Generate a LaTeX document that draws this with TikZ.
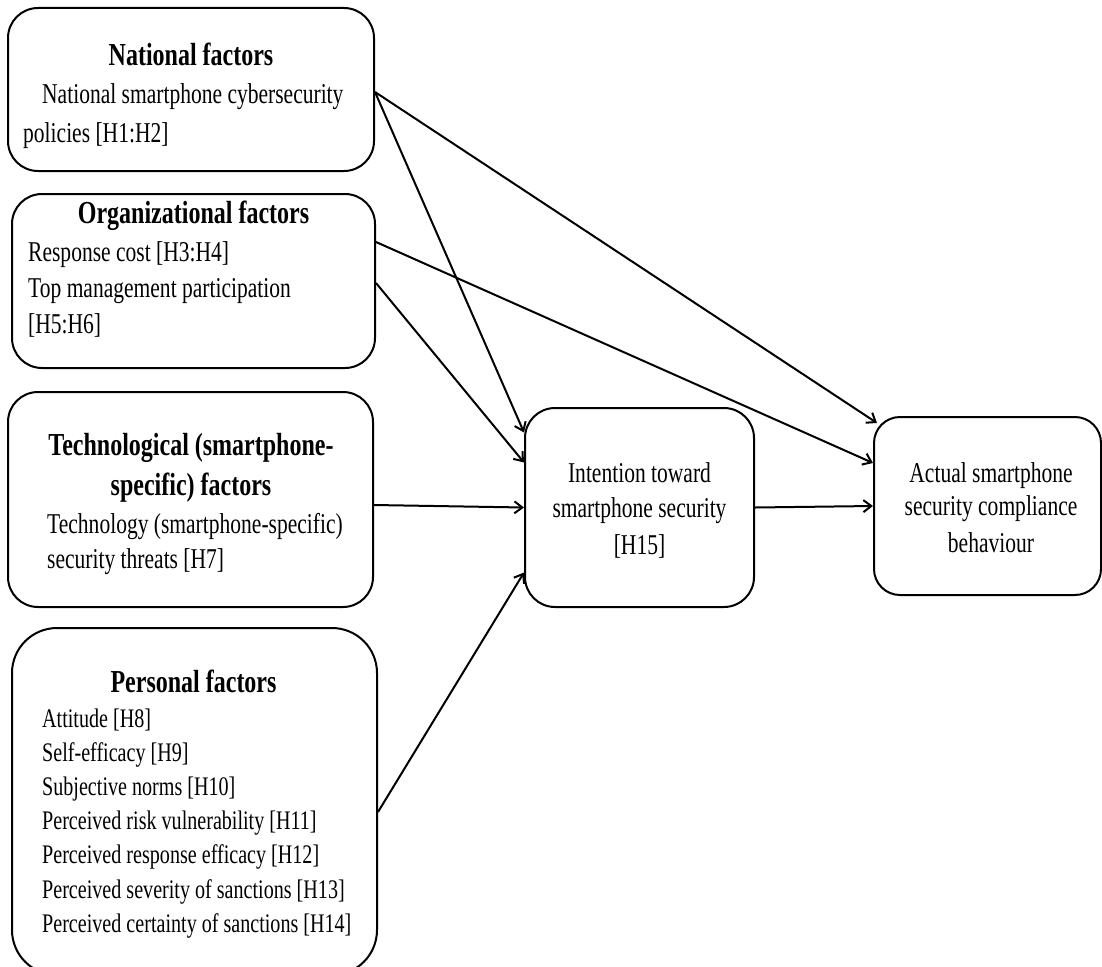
\documentclass[tikz,border=0pt]{standalone}
\usepackage{fontspec}
\setmainfont{Liberation Serif}[FakeStretch=0.75]
\usetikzlibrary{arrows.meta}
\begin{document}
\begin{tikzpicture}[x=1pt,y=-1pt,
  box/.style={draw, line width=2pt, rounded corners=30pt, inner sep=0pt},
  txt/.style={inner sep=0pt, font=\fontsize{28.7}{34}\selectfont},
  ptxt/.style={inner sep=0pt, font=\fontsize{26.8}{34}\selectfont},
  ttl/.style={inner sep=0pt, font=\fontsize{32}{38}\selectfont\bfseries},
  arr/.style={line width=2pt, -{Straight Barb[length=8pt,width=12pt]}}]
\useasboundingbox[fill=white] (0,0) rectangle (1102,966);
% boxes
\node[box, minimum width=366pt, minimum height=163pt] (nat) at (191,89.5) {};
\node[box, minimum width=363pt, minimum height=174pt] (org) at (193.5,281) {};
\node[box, minimum width=365pt, minimum height=215pt] (tech) at (190.5,499.5) {};
\node[box, rounded corners=45pt, minimum width=365pt, minimum height=347pt] (pers) at (194.5,801.5) {};
\node[box, minimum width=229pt, minimum height=199pt] (int) at (639.5,507.5) {};
\node[box, rounded corners=26pt, minimum width=227pt, minimum height=178pt] (act) at (987.5,506) {};
% national
\node[ttl, anchor=base] (natT) at (191,65) {National factors};
\node[txt, anchor=base west] (nat1) at (42,103) {National smartphone cybersecurity};
\node[txt, anchor=base west] (nat2) at (23,142) {policies [H1:H2]};
% organizational
\node[ttl, anchor=base] (orgT) at (193.5,223) {Organizational factors};
\node[txt, anchor=base west] (org1) at (28,261) {Response cost [H3:H4]};
\node[txt, anchor=base west] (org2) at (28,297) {Top management participation};
\node[txt, anchor=base west] (org3) at (28,333) {[H5:H6]};
% technological
\node[ttl, anchor=base] (techT1) at (191,455) {Technological (smartphone-};
\node[ttl, anchor=base] (techT2) at (191,495) {specific) factors};
\node[txt, anchor=base west] (tech1) at (47,533) {Technology (smartphone-specific)};
\node[txt, anchor=base west] (tech2) at (47,568) {security threats [H7]};
% personal
\node[ttl, anchor=base] (persT) at (193.5,692) {Personal factors};
\node[ptxt, anchor=base west] (pers1) at (42,727) {Attitude [H8]};
\node[ptxt, anchor=base west] (pers2) at (42,761) {Self-efficacy [H9]};
\node[ptxt, anchor=base west] (pers3) at (42,795) {Subjective norms [H10]};
\node[ptxt, anchor=base west] (pers4) at (42,829) {Perceived risk vulnerability [H11]};
\node[ptxt, anchor=base west] (pers5) at (42,863) {Perceived response efficacy [H12]};
\node[ptxt, anchor=base west] (pers6) at (42,898) {Perceived severity of sanctions [H13]};
\node[ptxt, anchor=base west] (pers7) at (42,932) {Perceived certainty of sanctions [H14]};
% intention
\node[txt, anchor=base] (int1) at (639.5,482) {Intention toward};
\node[txt, anchor=base] (int2) at (639.5,517) {smartphone security};
\node[txt, anchor=base] (int3) at (639.5,554) {[H15]};
% actual
\node[txt, anchor=base] (act1) at (991,482) {Actual smartphone};
\node[txt, anchor=base] (act2) at (991,515) {security compliance};
\node[txt, anchor=base] (act3) at (991,552) {behaviour};
% connectors
\draw[arr] ([yshift=-2.5pt]nat.east) -- ([xshift=4pt,yshift=83pt]act.west);
\draw[arr] ([yshift=-2.5pt]nat.east) -- ([yshift=75pt]int.west);
\draw[arr] ([yshift=39pt]org.east) -- ([yshift=43pt]act.west);
\draw[arr] ([yshift=-2pt]org.east) -- ([yshift=45pt]int.west);
\draw[arr] ([yshift=-5.5pt]tech.east) -- (int.west);
\draw[arr] ([yshift=-10.5pt]pers.east) -- ([yshift=-65pt]int.west);
\draw[arr] (int.east) -- (act.west);
\end{tikzpicture}
\end{document}
